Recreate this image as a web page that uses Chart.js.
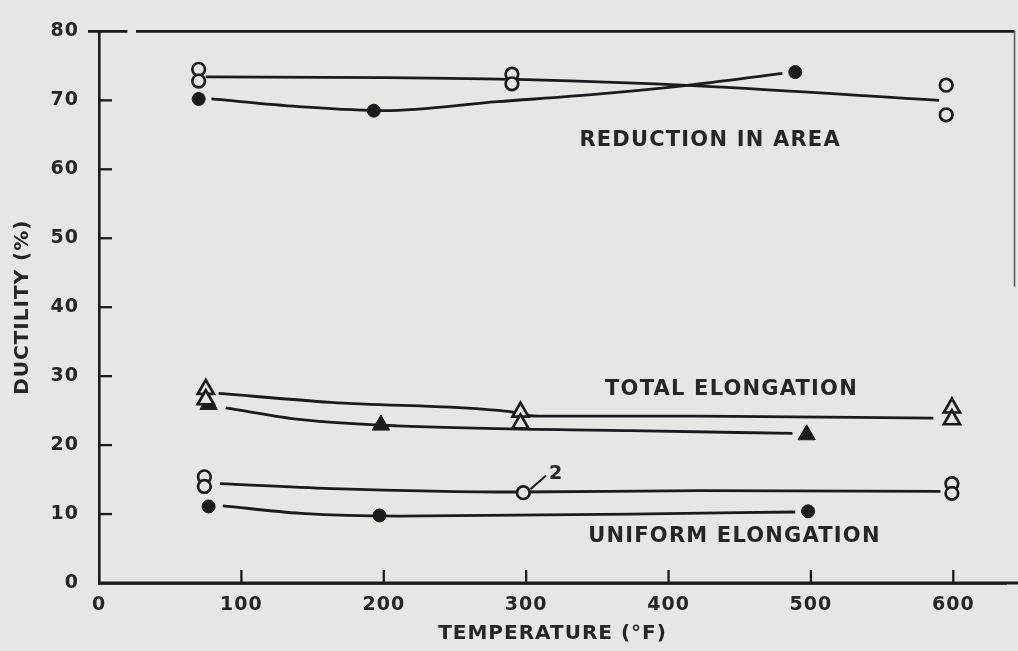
<!DOCTYPE html>
<html>
<head>
<meta charset="utf-8">
<script src="https://cdn.jsdelivr.net/npm/chart.js@4/dist/chart.umd.min.js"></script>
<style>
  html, body { margin: 0; padding: 0; background: #e6e6e3; }
  #wrap { width: 1018px; height: 651px; }
</style>
</head>
<body>
<div id="wrap"><canvas id="c" width="1018" height="651"></canvas></div>
<script>
// ---- tick labels ----
const xTicks = [0, 100, 200, 300, 400, 500, 600];
const yTicks = [0, 10, 20, 30, 40, 50, 60, 70, 80];

// ---- Reduction in area ----
const raOpenT = [70, 70, 290, 290, 595, 595];
const raOpenV = [74.5, 72.8, 73.8, 72.4, 72.2, 67.9];
const raFilledT = [70, 193, 489];
const raFilledV = [70.2, 68.5, 74.1];
const raOpenFitT = [75, 200, 300, 420, 590];
const raOpenFitV = [73.4, 73.3, 73.0, 72.1, 70.0];
const raFilledFitT = [79, 140, 200, 280, 350, 410, 480];
const raFilledFitV = [70.2, 69.1, 68.5, 69.8, 70.9, 72.1, 73.9];

// ---- Total elongation ----
const teOpenT = [75, 75, 296, 296, 599, 599];
const teOpenV = [28.1, 26.6, 24.8, 23.1, 25.4, 23.7];
const teFilledT = [77, 198, 497];
const teFilledV = [25.9, 22.9, 21.5];
const teOpenFitT = [84, 163, 287, 308, 422, 586];
const teOpenFitV = [27.5, 26.2, 24.9, 24.2, 24.2, 23.9];
const teFilledFitT = [89, 142, 209, 373, 487];
const teFilledFitV = [25.4, 23.7, 22.8, 22.1, 21.7];

// ---- Uniform elongation ----
const ueOpenT = [74, 74, 298, 599, 599];
const ueOpenV = [15.4, 14.0, 13.1, 14.4, 13.0];
const ueFilledT = [77, 197, 498];
const ueFilledV = [11.1, 9.8, 10.4];
const ueOpenFitT = [85, 163, 293, 422, 591];
const ueOpenFitV = [14.4, 13.7, 13.2, 13.4, 13.3];
const ueFilledFitT = [87, 142, 210, 373, 489];
const ueFilledFitV = [11.2, 10.1, 9.7, 10.0, 10.3];

// ---- curve labels (text, anchor in data units) ----
const curveLabels = ['REDUCTION IN AREA', 'TOTAL ELONGATION', 'UNIFORM ELONGATION'];
const curveLabelT = [521, 533, 549];
const curveLabelV = [64.2, 28.0, 6.8];
const countNote = '2';
const countNoteT = [303, 314];
const countNoteV = [13.6, 15.6];
const frameRightT = 643;

const ink = '#1c1c1c';
const paper = '#e6e6e3';
const FONT = '"DejaVu Sans", Verdana, sans-serif';

const pts = (t, v) => t.map((d, i) => ({ x: d, y: v[i] }));

function markers(t, v, style, filled, r) {
  return {
    type: 'scatter', data: pts(t, v), order: 0,
    pointStyle: style, pointRadius: r, pointHoverRadius: r,
    pointBorderColor: ink, pointBorderWidth: filled ? 1 : 2.7,
    pointBackgroundColor: filled ? ink : paper,
    showLine: false
  };
}
function fit(t, v) {
  return {
    type: 'line', data: pts(t, v), order: 1,
    borderColor: ink, borderWidth: 2.8, pointRadius: 0, pointHoverRadius: 0,
    cubicInterpolationMode: 'monotone', fill: false
  };
}

const deco = {
  id: 'deco',
  beforeDraw(chart) {
    const ctx = chart.ctx;
    ctx.save();
    ctx.fillStyle = paper;
    ctx.fillRect(0, 0, chart.width, chart.height);
    ctx.restore();
    ctx.letterSpacing = '1px';
  },
  afterDraw(chart) {
    const { ctx, chartArea: { left, right, top, bottom }, scales: { x, y } } = chart;
    ctx.save();
    ctx.strokeStyle = ink;
    ctx.lineWidth = 2.3;
    ctx.lineCap = 'butt';
    const seg = (x1, y1, x2, y2) => { ctx.beginPath(); ctx.moveTo(x1, y1); ctx.lineTo(x2, y2); ctx.stroke(); };
    // inward tick marks
    yTicks.forEach(v => { if (v > 0 && v < 80) { const p = y.getPixelForValue(v); seg(left, p, left + 13, p); } });
    xTicks.forEach(v => { if (v > 0) { const p = x.getPixelForValue(v); seg(p, bottom, p, bottom - 13); } });
    // top frame line at 80, with a small break near the axis
    const yt = y.getPixelForValue(80);
    const xr = x.getPixelForValue(frameRightT);
    ctx.lineWidth = 2.6;
    seg(left - 11, yt, x.getPixelForValue(20), yt);
    seg(x.getPixelForValue(26), yt, xr, yt);
    // x axis runs on to the page edge
    ctx.lineWidth = 2.8;
    seg(left, bottom, chart.width, bottom);
    // faint right frame line
    ctx.strokeStyle = '#5e5e5e';
    ctx.lineWidth = 1.6;
    seg(xr, yt, xr, y.getPixelForValue(43));
    // "2" count note with leader
    ctx.strokeStyle = ink;
    ctx.lineWidth = 2;
    seg(x.getPixelForValue(countNoteT[0]), y.getPixelForValue(countNoteV[0]),
        x.getPixelForValue(countNoteT[1]), y.getPixelForValue(countNoteV[1]));
    ctx.fillStyle = '#262626';
    ctx.font = 'bold 19px ' + FONT;
    ctx.letterSpacing = '0px';
    ctx.textAlign = 'left';
    ctx.textBaseline = 'middle';
    ctx.fillText(countNote, x.getPixelForValue(countNoteT[1]) + 3, y.getPixelForValue(countNoteV[1]) - 1);
    // curve labels
    ctx.font = 'bold 21px ' + FONT;
    ctx.letterSpacing = '1.2px';
    ctx.textAlign = 'right';
    curveLabels.forEach((s, i) => {
      ctx.fillText(s, x.getPixelForValue(curveLabelT[i]), y.getPixelForValue(curveLabelV[i]));
    });
    ctx.restore();
  }
};

new Chart(document.getElementById('c'), {
  type: 'scatter',
  data: {
    datasets: [
      fit(raOpenFitT, raOpenFitV),
      fit(raFilledFitT, raFilledFitV),
      fit(teOpenFitT, teOpenFitV),
      fit(teFilledFitT, teFilledFitV),
      fit(ueOpenFitT, ueOpenFitV),
      fit(ueFilledFitT, ueFilledFitV),
      markers(raOpenT, raOpenV, 'circle', false, 6.3),
      markers(raFilledT, raFilledV, 'circle', true, 6.5),
      markers(teOpenT, teOpenV, 'triangle', false, 9.3),
      markers(teFilledT, teFilledV, 'triangle', true, 10),
      markers(ueOpenT, ueOpenV, 'circle', false, 6.3),
      markers(ueFilledT, ueFilledV, 'circle', true, 6.5)
    ]
  },
  options: {
    responsive: false,
    animation: false,
    events: [],
    layout: { padding: { left: 7, right: 2, top: 21, bottom: 0 } },
    plugins: { legend: { display: false }, tooltip: { enabled: false } },
    scales: {
      x: {
        type: 'linear', min: 0, max: 637,
        afterBuildTicks: s => { s.ticks = xTicks.map(v => ({ value: v })); },
        afterFit: s => { s.height = 68; },
        grid: { display: false, drawTicks: false },
        border: { display: true, color: ink, width: 2.8 },
        ticks: { color: '#262626', padding: 11, maxRotation: 0, font: { family: FONT, size: 19, weight: 'bold' } },
        title: { display: true, text: 'TEMPERATURE (°F)', color: '#262626', padding: { top: 4, bottom: 5 },
                 font: { family: FONT, size: 20, weight: 'bold' } }
      },
      y: {
        type: 'linear', min: 0, max: 80,
        afterBuildTicks: s => { s.ticks = yTicks.map(v => ({ value: v })); },
        afterFit: s => { s.width = 92; },
        grid: { display: false, drawTicks: false },
        border: { display: true, color: ink, width: 2.6 },
        ticks: { color: '#262626', padding: 20, font: { family: FONT, size: 19, weight: 'bold' } },
        title: { display: true, text: 'DUCTILITY (%)', color: '#262626', padding: { top: 4, bottom: 4 },
                 font: { family: FONT, size: 20, weight: 'bold' } }
      }
    }
  },
  plugins: [deco]
});
</script>
</body>
</html>
